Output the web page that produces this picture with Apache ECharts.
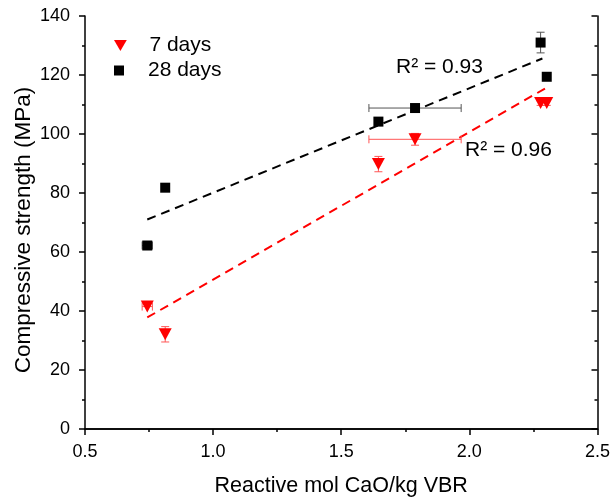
<!DOCTYPE html>
<html>
<head>
<meta charset="utf-8">
<script src="https://cdn.jsdelivr.net/npm/echarts@6/dist/echarts.min.js"></script>
<style>
  html, body { margin: 0; padding: 0; background: #fff; }
  #chart { width: 613px; height: 502px; }
</style>
</head>
<body>
<div id="chart"></div>
<script>
// reactive mol CaO / kg VBR for each mix
var molCaO = [0.743, 0.813, 1.645, 1.788, 2.278, 2.302];
// compressive strength (MPa)
var days7 = [41.5, 32.1, 89.8, 98.2, 110.5, 110.5];
var days28 = [62.2, 81.8, 104.2, 108.8, 131.0, 119.4];
// error bars [x error, y error]
var err7 = [[0.02, 0], [0, 2.6], [0, 2.6], [0.18, 2.0], [0, 0.8], [0, 0.8]];
var err28 = [[0.02, 0.8], [0, 1.0], [0, 0.8], [0.18, 0.8], [0, 3.5], [0, 0.8]];
// dashed linear fits
var fit7 = [[0.743, 37.8], [2.295, 115.4]];
var fit28 = [[0.743, 71.0], [2.285, 125.6]];
var xTicks = ['0.5', '1.0', '1.5', '2.0', '2.5'];

var font = '"Liberation Sans", Arial, sans-serif';

function points(ys) {
  return molCaO.map(function (x, i) { return [x, ys[i]]; });
}
function errRows(ys, errs) {
  return molCaO.map(function (x, i) { return [x, ys[i], errs[i][0], errs[i][1]]; });
}

function errorBar(color) {
  return function (params, api) {
    var x = api.value(0), y = api.value(1), ex = api.value(2), ey = api.value(3);
    var kids = [];
    var st = { stroke: color, lineWidth: 1 };
    if (ey > 0) {
      var a = api.coord([x, y - ey]), b = api.coord([x, y + ey]);
      kids.push({ type: 'line', shape: { x1: a[0], y1: a[1], x2: b[0], y2: b[1] }, style: st });
      kids.push({ type: 'line', shape: { x1: a[0] - 4, y1: a[1], x2: a[0] + 4, y2: a[1] }, style: st });
      kids.push({ type: 'line', shape: { x1: b[0] - 4, y1: b[1], x2: b[0] + 4, y2: b[1] }, style: st });
    }
    if (ex > 0) {
      var c = api.coord([x - ex, y]), d = api.coord([x + ex, y]);
      kids.push({ type: 'line', shape: { x1: c[0], y1: c[1], x2: d[0], y2: d[1] }, style: st });
      kids.push({ type: 'line', shape: { x1: c[0], y1: c[1] - 4, x2: c[0], y2: c[1] + 4 }, style: st });
      kids.push({ type: 'line', shape: { x1: d[0], y1: d[1] - 4, x2: d[0], y2: d[1] + 4 }, style: st });
    }
    return { type: 'group', children: kids };
  };
}

var triDown = 'path://M0,0 L10,0 L5,8.6 Z';
var square = 'path://M0,0 L10,0 L10,10 L0,10 Z';
var legendText = { fontSize: 21, color: '#000', fontFamily: font };
var axisColor = { color: '#000', width: 1.5 };

var chart = echarts.init(document.getElementById('chart'));
var option = {
  animation: false,
  textStyle: { fontFamily: font },
  grid: { left: 85, right: 14, top: 16, bottom: 70 },
  legend: [
    {
      left: 109, top: 30, itemWidth: 48, itemHeight: 11,
      textStyle: legendText,
      data: [{ name: '7 days', icon: triDown, itemStyle: { color: '#ff0000' } }]
    },
    {
      left: 109, top: 55, itemWidth: 48, itemHeight: 10,
      textStyle: legendText,
      data: [{ name: '28 days', icon: square, itemStyle: { color: '#000' } }]
    }
  ],
  xAxis: [
    {
      type: 'value', min: 0.5, max: 2.5, interval: 0.5,
      name: 'Reactive mol CaO/kg VBR', nameLocation: 'middle', nameGap: 46,
      nameTextStyle: { fontSize: 21.5, color: '#000' },
      axisLine: { lineStyle: axisColor },
      axisTick: { length: 6, lineStyle: axisColor },
      minorTick: { show: true, splitNumber: 2, length: 3, lineStyle: axisColor },
      axisLabel: { fontSize: 18, color: '#000', margin: 14,
        formatter: function (v) { return xTicks[Math.round((v - 0.5) / 0.5)]; } },
      splitLine: { show: false }
    },
    {
      type: 'value', position: 'top', min: 0.5, max: 2.5, interval: 0.5,
      axisLine: { lineStyle: axisColor },
      axisTick: { inside: true, length: 6, lineStyle: axisColor },
      minorTick: { show: true, splitNumber: 2, length: 3, lineStyle: axisColor },
      axisLabel: { show: false },
      splitLine: { show: false }
    }
  ],
  yAxis: [
    {
      type: 'value', min: 0, max: 140, interval: 20,
      axisLine: { show: true, lineStyle: axisColor },
      axisTick: { show: true, length: 6, lineStyle: axisColor },
      minorTick: { show: true, splitNumber: 2, length: 3, lineStyle: axisColor },
      axisLabel: { fontSize: 18, color: '#000', margin: 15 },
      splitLine: { show: false }
    },
    {
      type: 'value', position: 'right', min: 0, max: 140, interval: 20,
      axisLine: { show: true, lineStyle: axisColor },
      axisTick: { show: true, inside: true, length: 6, lineStyle: axisColor },
      minorTick: { show: true, splitNumber: 2, length: 3, lineStyle: axisColor },
      axisLabel: { show: false },
      splitLine: { show: false }
    }
  ],
  graphic: [
    {
      type: 'text', x: 24, y: 230, rotation: Math.PI / 2,
      style: { text: 'Compressive strength (MPa)', fontSize: 22.5, fill: '#000', fontFamily: font,
        align: 'center', verticalAlign: 'middle' }
    },
    { type: 'text', left: 396, top: 57, style: { text: 'R² = 0.93', fontSize: 21, fill: '#000', fontFamily: font } },
    { type: 'text', left: 465, top: 140, style: { text: 'R² = 0.96', fontSize: 21, fill: '#000', fontFamily: font } }
  ],
  series: [
    {
      name: 'fit28', type: 'line', data: fit28, symbol: 'none', silent: true,
      lineStyle: { color: '#000', width: 2, type: [9, 6] }, z: 1
    },
    {
      name: 'fit7', type: 'line', data: fit7, symbol: 'none', silent: true,
      lineStyle: { color: '#ff0000', width: 2, type: [9, 6] }, z: 1
    },
    {
      name: 'err28', type: 'custom', data: errRows(days28, err28),
      renderItem: errorBar('#555'), z: 2, silent: true
    },
    {
      name: 'err7', type: 'custom', data: errRows(days7, err7),
      renderItem: errorBar('#ff5555'), z: 2, silent: true
    },
    {
      name: '7 days', type: 'scatter', data: points(days7),
      symbol: triDown, symbolSize: [13, 12], itemStyle: { color: '#ff0000', opacity: 1 }, z: 3
    },
    {
      name: '28 days', type: 'scatter', data: points(days28),
      symbol: 'rect', symbolSize: 10, itemStyle: { color: '#000', opacity: 1 }, z: 3
    }
  ]
};
chart.setOption(option);
</script>
</body>
</html>
